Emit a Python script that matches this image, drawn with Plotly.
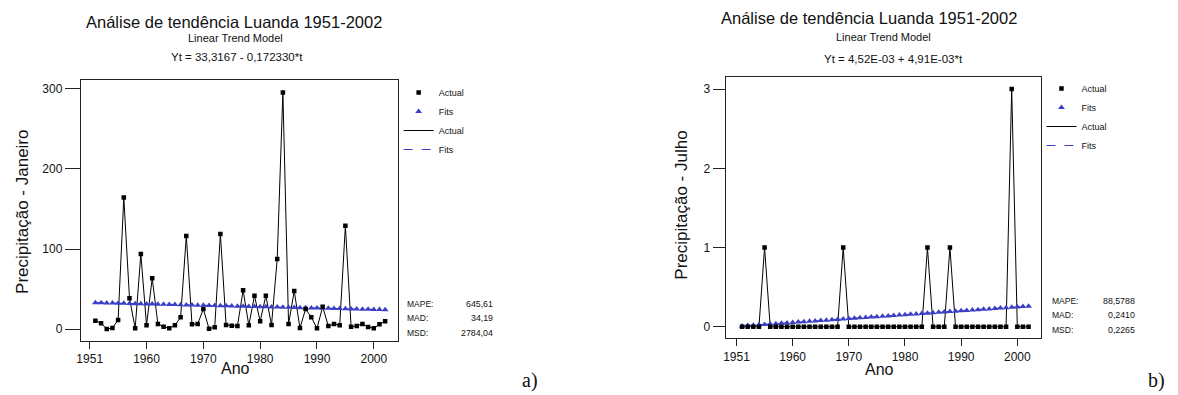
import plotly.graph_objects as go

W, H = 1178, 395

# ---------------- data ----------------
years = list(range(1951, 2003))

jan_actual = [10.7, 7.5, 0.4, 1.6, 11.6, 164.0, 38.6, 1.2, 93.8, 5.0,
              63.5, 6.6, 3.3, 1.2, 5.0, 14.9, 116.2, 6.2, 6.6, 25.3,
              0.8, 2.5, 118.7, 5.4, 4.5, 4.1, 48.6, 5.0, 41.8, 10.0,
              41.8, 5.4, 87.5, 295.0, 6.6, 47.7, 1.6, 25.3, 14.9, 1.2,
              28.0, 4.1, 6.6, 5.0, 129.0, 3.3, 4.1, 6.6, 2.9, 1.2,
              6.2, 10.0]

jan_fits = [33.14, 32.97, 32.80, 32.63, 32.46, 32.28, 32.11, 31.94, 31.77, 31.59,
            31.42, 31.25, 31.08, 30.90, 30.73, 30.56, 30.39, 30.22, 30.04, 29.87,
            29.70, 29.53, 29.35, 29.18, 29.01, 28.84, 28.66, 28.49, 28.32, 28.15,
            27.97, 27.80, 27.63, 27.46, 27.29, 27.11, 26.94, 26.77, 26.60, 26.42,
            26.25, 26.08, 25.91, 25.73, 25.56, 25.39, 25.22, 25.05, 24.87, 24.70,
            24.53, 24.36]

jul_actual = [0, 0, 0, 0, 1, 0, 0, 0, 0, 0,
              0, 0, 0, 0, 0, 0, 0, 0, 1, 0,
              0, 0, 0, 0, 0, 0, 0, 0, 0, 0,
              0, 0, 0, 1, 0, 0, 0, 1, 0, 0,
              0, 0, 0, 0, 0, 0, 0, 0, 3, 0,
              0, 0]

jul_fits = [0.0094, 0.0143, 0.0193, 0.0242, 0.0291, 0.0340, 0.0389, 0.0438, 0.0487, 0.0536,
            0.0585, 0.0634, 0.0683, 0.0733, 0.0782, 0.0831, 0.0880, 0.0929, 0.0978, 0.1027,
            0.1076, 0.1125, 0.1174, 0.1223, 0.1273, 0.1322, 0.1371, 0.1420, 0.1469, 0.1518,
            0.1567, 0.1616, 0.1665, 0.1714, 0.1763, 0.1813, 0.1862, 0.1911, 0.1960, 0.2009,
            0.2058, 0.2107, 0.2156, 0.2205, 0.2254, 0.2303, 0.2353, 0.2402, 0.2451, 0.2500,
            0.2549, 0.2598]

tick_years = [1950, 1960, 1970, 1980, 1990, 2000]
tick_labels = ["1951", "1960", "1970", "1980", "1990", "2000"]
jan_yticks = [0, 100, 200, 300]
jul_yticks = [0, 1, 2, 3]

title_text = "Análise de tendência Luanda 1951-2002"
subtitle_text = "Linear Trend Model"
jan_eq = "Yt = 33,3167 - 0,172330*t"
jul_eq = "Yt = 4,52E-03 + 4,91E-03*t"
jan_ylabel = "Precipitação - Janeiro"
jul_ylabel = "Precipitação - Julho"
xlabel = "Ano"
stat_names = ["MAPE:", "MAD:", "MSD:"]
jan_stats = ["645,61", "34,19", "2784,04"]
jul_stats = ["88,5788", "0,2410", "0,2265"]

# ---------------- style ----------------
BLUE = "#3b3fc6"
SANS = "Liberation Sans, Arial, sans-serif"
SERIF = "Liberation Serif, Times New Roman, serif"
AX = "#222222"


def px(x):
    return x / W


def py(y):
    return 1 - y / H


fig = go.Figure()


def add_panel(xa, ya, leg, actual, fits):
    fig.add_trace(go.Scatter(x=years, y=actual, mode="lines", name="Actual",
                             line=dict(color="black", width=1), xaxis=xa, yaxis=ya,
                             legend=leg, legendrank=3))
    fig.add_trace(go.Scatter(x=years, y=fits, mode="lines", name="Fits",
                             line=dict(color=BLUE, width=1.2, dash="dash"), xaxis=xa, yaxis=ya,
                             legend=leg, legendrank=4))
    fig.add_trace(go.Scatter(x=years, y=fits, mode="markers", name="Fits",
                             marker=dict(symbol="triangle-up", size=6, color=BLUE),
                             xaxis=xa, yaxis=ya, legend=leg, legendrank=2))
    fig.add_trace(go.Scatter(x=years, y=actual, mode="markers", name="Actual",
                             marker=dict(symbol="square", size=4.5, color="black"),
                             xaxis=xa, yaxis=ya, legend=leg, legendrank=1))


add_panel("x", "y", "legend", jan_actual, jan_fits)
add_panel("x2", "y2", "legend2", jul_actual, jul_fits)

common_axis = dict(showline=True, mirror=True, linecolor=AX, linewidth=1,
                   showgrid=False, zeroline=False, ticks="outside", tickcolor=AX,
                   tickwidth=1, tickfont=dict(family=SANS, size=12, color="#111"))

fig.update_layout(
    width=W, height=H,
    margin=dict(l=0, r=0, t=0, b=0),
    paper_bgcolor="white", plot_bgcolor="white",
    hovermode=False,
    xaxis=dict(domain=[px(77), px(395)], range=[1948.42, 2004.2], anchor="y",
               tickvals=tick_years, ticktext=tick_labels, ticklen=7, **common_axis),
    yaxis=dict(domain=[py(341), py(80)], range=[-14.6, 310.5], anchor="x",
               tickvals=jan_yticks, ticklen=15, **common_axis),
    xaxis2=dict(domain=[px(724), px(1041)], range=[1948.05, 2004.3], anchor="y2",
                tickvals=tick_years, ticktext=tick_labels, ticklen=7, **common_axis),
    yaxis2=dict(domain=[py(338.3), py(77.3)], range=[-0.146, 3.149], anchor="x2",
                tickvals=jul_yticks, ticklen=12, **common_axis),
    legend=dict(x=px(396), y=py(78), xanchor="left", yanchor="top",
                font=dict(family=SANS, size=9, color="#111"),
                bgcolor="rgba(0,0,0,0)", tracegroupgap=0, itemwidth=30),
    legend2=dict(x=px(1041), y=py(74), xanchor="left", yanchor="top",
                 font=dict(family=SANS, size=9, color="#111"),
                 bgcolor="rgba(0,0,0,0)", tracegroupgap=0, itemwidth=30),
)

ann = []


def text(x, y, s, size, family=SANS, xanchor="center", angle=0, color="#111"):
    ann.append(dict(x=px(x), y=py(y), xref="paper", yref="paper", text=s,
                    showarrow=False, xanchor=xanchor, yanchor="middle",
                    textangle=angle, font=dict(family=family, size=size, color=color)))


# panel a texts
text(231, 22, title_text, 16.5)
text(232, 38, subtitle_text, 11)
text(234, 57, jan_eq, 11.5)
text(18, 212, jan_ylabel, 17, angle=-90)
text(232, 368, xlabel, 16)
for i, (nm, v) in enumerate(zip(stat_names, jan_stats)):
    yy = 304 + i * 14.3
    text(402, yy, nm, 8.5, xanchor="left")
    text(493, yy, v, 8.8, xanchor="right")
text(528, 380, "a)", 20, family=SERIF)

# panel b texts
text(868, 18, title_text, 16.5)
text(882, 37, subtitle_text, 11)
text(893, 59, jul_eq, 11.5)
text(679, 205, jul_ylabel, 17, angle=-90)
text(878, 369, xlabel, 16)
for i, (nm, v) in enumerate(zip(stat_names, jul_stats)):
    yy = 300.7 + i * 14.6
    text(1050, yy, nm, 8.5, xanchor="left")
    text(1137, yy, v, 8.8, xanchor="right")
text(1156, 380, "b)", 20, family=SERIF)

fig.update_layout(annotations=ann)

fig.write_html("out.html",
               config={"displayModeBar": False, "staticPlot": True},
               post_script="document.body.style.margin='0';document.body.style.overflow='hidden';")
